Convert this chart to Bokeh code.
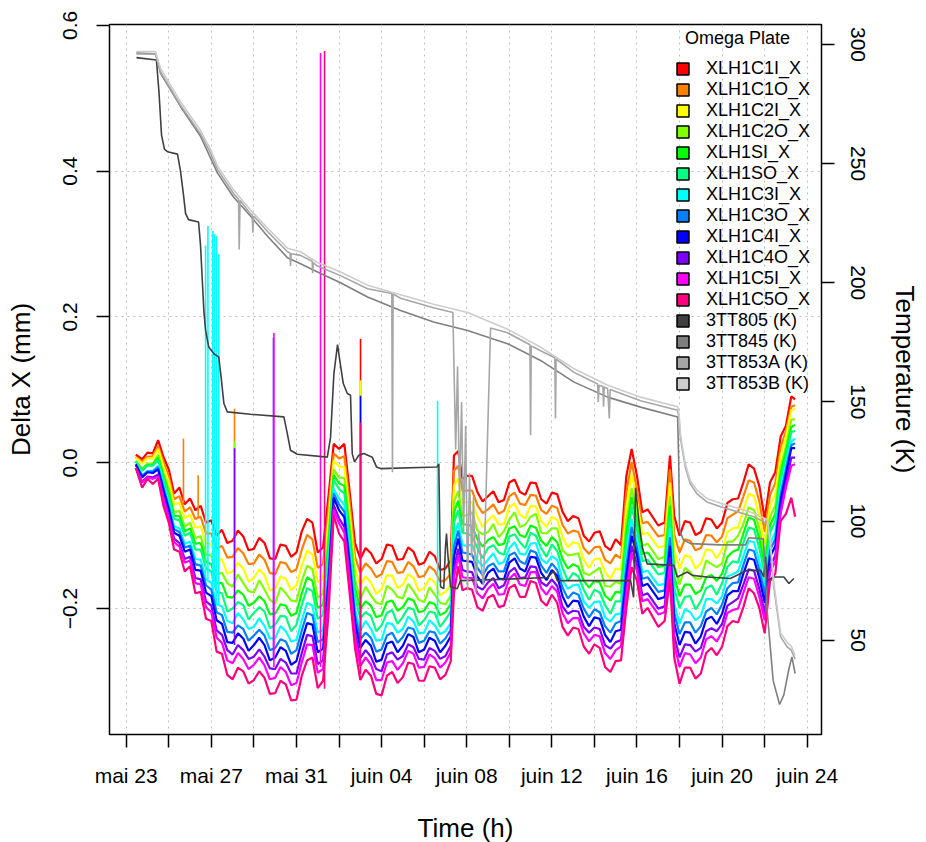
from bokeh.plotting import figure
from bokeh.models import Range1d, LinearAxis, FixedTicker, Legend, LegendItem, ColumnDataSource
from bokeh.embed import file_html
from bokeh.resources import INLINE

# ---------------- data (time in days since 23 May, 00:00) ----------------
T = [0.45, 0.75, 1.0, 1.25, 1.5, 1.75, 2.0, 2.25, 2.5, 2.75, 3.0, 3.25, 3.5, 3.75, 4.0, 4.25, 4.5,
     4.75, 5.0, 5.25, 5.5, 5.75, 6.0, 6.25, 6.5, 6.75, 7.0, 7.25, 7.5, 7.75, 8.0,
     8.25, 8.5, 8.75, 9.0, 9.25, 9.5, 9.75, 10.0, 10.25, 10.5, 10.75, 11.0,
     11.25, 11.5, 11.75, 12.0, 12.25, 12.5, 12.75, 13.0, 13.25, 13.5, 13.75, 14.0, 14.25, 14.5, 14.75, 15.0,
     15.25, 15.4, 15.6, 15.8, 16.0,
     16.25, 16.5, 16.75, 17.0, 17.25, 17.5, 17.75, 18.0, 18.25, 18.5, 18.75, 19.0, 19.25, 19.5, 19.75, 20.0,
     20.25, 20.5, 20.75, 21.0, 21.25, 21.5, 21.75, 22.0, 22.25, 22.5, 22.75, 23.0,
     23.25, 23.5, 23.75, 24.0, 24.25, 24.5, 25.0, 25.3, 25.55, 25.75, 26.0,
     26.25, 26.5, 26.75, 27.0, 27.25, 27.5, 27.75, 28.0, 28.25, 28.5, 28.75, 29.0,
     29.25, 29.5, 29.75, 30.0, 30.25, 30.5, 30.75, 31.0, 31.25, 31.43]

XLH1C1I_X = [.011, .005, .014, .013, .031, .008, -.009, -.042, -.034, -.057, -.049, -.065, -.059, -.082, -.079, -.100, -.092,
             -.110, -.107, -.093, -.101, -.120, -.118, -.103, -.110, -.131, -.132, -.112, -.114, -.129, -.123,
             -.094, -.077, -.082, -.123, -.116, -.047, .026, .019, .026, -.040, -.110, -.132,
             -.117, -.124, -.138, -.132, -.112, -.114, -.133, -.132, -.116, -.122, -.140, -.137, -.122, -.128, -.147, -.145,
             -.134, .010, .016, -.022, -.018,
             -.018, -.040, -.053, -.046, -.039, -.054, -.051, -.027, -.023, -.040, -.044, -.027, -.028, -.050, -.056, -.041,
             -.043, -.067, -.080, -.073, -.076, -.100, -.108, -.096, -.094, -.114, -.120, -.105,
             -.113, -.018, .019, -.018, -.068, -.064, -.086, -.082, .010, -.073, -.100,
             -.080, -.082, -.099, -.095, -.076, -.078, -.090, -.082, -.055, -.050, -.049, -.027,
             -.002, -.008, -.032, -.077, -.027, -.013, .036, .051, .091, .087]
XLH1C1O_X = [.008, .002, .008, .009, .023, .001, -.019, -.050, -.046, -.067, -.061, -.077, -.074, -.097, -.097, -.118, -.114,
             -.130, -.129, -.117, -.124, -.139, -.138, -.126, -.133, -.151, -.153, -.136, -.138, -.150, -.146,
             -.119, -.099, -.105, -.144, -.139, -.065, .013, .006, .009, -.055, -.129, -.151,
             -.138, -.145, -.157, -.153, -.135, -.136, -.151, -.150, -.136, -.142, -.157, -.155, -.142, -.148, -.163, -.161,
             -.152, -.011, -.004, -.039, -.038,
             -.038, -.058, -.069, -.064, -.057, -.070, -.066, -.046, -.041, -.056, -.058, -.044, -.045, -.065, -.070, -.059,
             -.062, -.085, -.097, -.093, -.095, -.117, -.125, -.116, -.115, -.133, -.138, -.126,
             -.131, -.041, .001, -.037, -.083, -.081, -.101, -.099, -.009, -.098, -.123,
             -.105, -.107, -.120, -.117, -.099, -.100, -.109, -.101, -.076, -.071, -.067, -.046,
             -.024, -.027, -.053, -.095, -.044, -.028, .021, .044, .077, .079]
XLH1C2I_X = [.007, -.001, .006, .006, .019, -.005, -.026, -.057, -.055, -.076, -.071, -.089, -.087, -.110, -.112, -.135, -.132,
             -.152, -.149, -.137, -.145, -.163, -.158, -.146, -.154, -.175, -.173, -.156, -.159, -.175, -.168,
             -.141, -.120, -.126, -.164, -.159, -.082, .003, -.005, -.006, -.070, -.144, -.168,
             -.156, -.164, -.180, -.173, -.154, -.155, -.172, -.167, -.153, -.158, -.176, -.172, -.158, -.164, -.182, -.177,
             -.167, -.032, -.021, -.055, -.054,
             -.054, -.074, -.088, -.079, -.072, -.085, -.084, -.061, -.056, -.071, -.076, -.059, -.060, -.080, -.088, -.074,
             -.078, -.101, -.116, -.109, -.111, -.133, -.144, -.132, -.131, -.150, -.159, -.145,
             -.147, -.061, -.016, -.052, -.098, -.096, -.116, -.114, -.027, -.119, -.145,
             -.127, -.129, -.145, -.138, -.119, -.120, -.131, -.119, -.095, -.090, -.089, -.065,
             -.042, -.046, -.072, -.111, -.059, -.043, .009, .036, .072, .074]
XLH1C2O_X = [.002, -.008, -.001, -.001, .011, -.014, -.036, -.068, -.066, -.088, -.082, -.103, -.101, -.126, -.127, -.153, -.151,
             -.165, -.170, -.153, -.165, -.176, -.178, -.161, -.174, -.188, -.193, -.171, -.179, -.189, -.190,
             -.162, -.141, -.146, -.185, -.179, -.101, -.009, -.020, -.021, -.086, -.160, -.187,
             -.170, -.182, -.192, -.194, -.169, -.174, -.184, -.186, -.166, -.176, -.188, -.191, -.171, -.181, -.192, -.194,
             -.182, -.053, -.039, -.073, -.072,
             -.068, -.093, -.098, -.095, -.084, -.102, -.094, -.078, -.068, -.088, -.085, -.074, -.070, -.096, -.097, -.090,
             -.090, -.120, -.127, -.126, -.124, -.151, -.154, -.149, -.144, -.169, -.170, -.163,
             -.166, -.080, -.035, -.068, -.114, -.111, -.132, -.129, -.046, -.140, -.167,
             -.144, -.150, -.159, -.159, -.134, -.139, -.143, -.138, -.108, -.108, -.100, -.084,
             -.061, -.065, -.090, -.129, -.074, -.059, -.005, .022, .059, .060]
XLH1SI_X = [.002, -.010, -.003, -.003, .007, -.018, -.042, -.073, -.073, -.094, -.090, -.111, -.110, -.136, -.139, -.165, -.165,
            -.184, -.185, -.175, -.181, -.196, -.192, -.183, -.190, -.208, -.207, -.194, -.196, -.210, -.206,
            -.179, -.157, -.162, -.199, -.195, -.113, -.017, -.028, -.032, -.097, -.172, -.200,
            -.190, -.196, -.212, -.209, -.191, -.189, -.203, -.198, -.186, -.189, -.205, -.203, -.191, -.194, -.209, -.205,
            -.194, -.068, -.052, -.084, -.085,
            -.087, -.105, -.115, -.106, -.102, -.113, -.111, -.090, -.087, -.099, -.102, -.086, -.089, -.107, -.114, -.102,
            -.109, -.132, -.145, -.139, -.143, -.162, -.171, -.162, -.164, -.182, -.189, -.177,
            -.178, -.096, -.047, -.080, -.125, -.123, -.143, -.141, -.059, -.156, -.183,
            -.167, -.167, -.180, -.175, -.157, -.154, -.162, -.152, -.129, -.122, -.119, -.097,
            -.075, -.078, -.104, -.141, -.086, -.070, -.015, .016, .049, .052]
XLH1SO_X = [.002, -.011, -.004, -.004, .004, -.022, -.046, -.077, -.079, -.100, -.096, -.119, -.119, -.145, -.149, -.177, -.179,
            -.204, -.200, -.191, -.195, -.215, -.206, -.198, -.204, -.227, -.222, -.210, -.211, -.231, -.222,
            -.195, -.172, -.176, -.214, -.209, -.126, -.024, -.036, -.042, -.107, -.184, -.213,
            -.205, -.210, -.231, -.223, -.206, -.202, -.221, -.211, -.199, -.201, -.223, -.216, -.204, -.206, -.225, -.215,
            -.204, -.082, -.065, -.096, -.097,
            -.100, -.117, -.131, -.117, -.113, -.123, -.126, -.101, -.098, -.109, -.117, -.096, -.100, -.117, -.129, -.112,
            -.121, -.144, -.162, -.151, -.156, -.174, -.188, -.174, -.178, -.195, -.207, -.190,
            -.190, -.110, -.060, -.092, -.135, -.133, -.153, -.151, -.072, -.172, -.199,
            -.184, -.183, -.201, -.190, -.172, -.168, -.181, -.165, -.143, -.135, -.137, -.110,
            -.089, -.091, -.117, -.153, -.096, -.080, -.023, .008, .042, .044]
XLH1C3I_X = [-.003, -.017, -.011, -.011, -.004, -.031, -.056, -.087, -.090, -.111, -.108, -.132, -.133, -.160, -.165, -.194, -.197,
             -.217, -.220, -.206, -.215, -.228, -.225, -.213, -.224, -.241, -.241, -.224, -.231, -.245, -.243,
             -.216, -.192, -.196, -.233, -.229, -.143, -.036, -.049, -.058, -.122, -.200, -.230,
             -.217, -.228, -.244, -.243, -.220, -.221, -.233, -.228, -.211, -.218, -.234, -.233, -.216, -.223, -.235, -.231,
             -.220, -.102, -.082, -.113, -.114,
             -.112, -.134, -.142, -.133, -.124, -.139, -.136, -.117, -.109, -.125, -.126, -.111, -.110, -.132, -.138, -.128,
             -.133, -.161, -.173, -.168, -.167, -.190, -.199, -.191, -.190, -.212, -.218, -.208,
             -.207, -.130, -.077, -.108, -.150, -.148, -.168, -.166, -.090, -.193, -.221,
             -.201, -.205, -.216, -.210, -.187, -.187, -.193, -.183, -.156, -.153, -.149, -.128,
             -.107, -.109, -.135, -.170, -.111, -.095, -.037, -.003, .029, .033]
XLH1C3O_X = [-.003, -.018, -.012, -.012, -.006, -.034, -.060, -.091, -.095, -.116, -.114, -.139, -.141, -.168, -.174, -.205, -.209,
             -.232, -.233, -.223, -.228, -.244, -.237, -.229, -.237, -.257, -.254, -.242, -.245, -.262, -.257,
             -.230, -.206, -.209, -.246, -.242, -.154, -.042, -.057, -.067, -.131, -.209, -.242,
             -.233, -.240, -.259, -.256, -.237, -.233, -.247, -.239, -.226, -.228, -.247, -.244, -.231, -.233, -.248, -.241,
             -.229, -.115, -.093, -.123, -.124,
             -.126, -.144, -.154, -.142, -.138, -.149, -.149, -.127, -.123, -.135, -.139, -.120, -.123, -.141, -.151, -.138,
             -.147, -.171, -.186, -.178, -.181, -.200, -.212, -.201, -.205, -.224, -.233, -.220,
             -.217, -.142, -.088, -.117, -.159, -.157, -.177, -.175, -.102, -.206, -.235,
             -.219, -.219, -.233, -.224, -.204, -.199, -.208, -.194, -.172, -.165, -.164, -.140,
             -.119, -.121, -.147, -.180, -.120, -.104, -.044, -.009, .024, .027]
XLH1C4I_X = [-.002, -.020, -.013, -.014, -.009, -.038, -.064, -.096, -.100, -.122, -.119, -.147, -.148, -.178, -.183, -.216, -.221,
             -.246, -.247, -.234, -.241, -.258, -.250, -.240, -.250, -.271, -.267, -.253, -.258, -.277, -.272,
             -.244, -.220, -.222, -.260, -.255, -.166, -.048, -.065, -.075, -.141, -.219, -.254,
             -.243, -.251, -.273, -.270, -.248, -.245, -.260, -.251, -.235, -.239, -.260, -.256, -.240, -.244, -.260, -.251,
             -.238, -.129, -.104, -.134, -.135,
             -.136, -.156, -.166, -.151, -.145, -.159, -.160, -.137, -.131, -.145, -.149, -.129, -.130, -.151, -.161, -.147,
             -.155, -.183, -.198, -.189, -.190, -.211, -.224, -.212, -.214, -.236, -.246, -.231,
             -.229, -.155, -.100, -.127, -.169, -.166, -.187, -.184, -.114, -.220, -.250,
             -.232, -.233, -.248, -.238, -.215, -.211, -.221, -.207, -.182, -.176, -.176, -.152,
             -.131, -.133, -.158, -.192, -.129, -.114, -.052, -.016, .020, .020]
XLH1C4O_X = [-.007, -.026, -.019, -.020, -.016, -.046, -.072, -.104, -.110, -.132, -.129, -.158, -.160, -.190, -.196, -.230, -.236,
             -.257, -.263, -.250, -.257, -.269, -.266, -.256, -.266, -.282, -.283, -.269, -.274, -.289, -.289,
             -.261, -.236, -.238, -.276, -.271, -.180, -.058, -.076, -.088, -.154, -.232, -.268,
             -.257, -.266, -.283, -.286, -.263, -.260, -.270, -.265, -.249, -.253, -.269, -.270, -.254, -.258, -.269, -.265,
             -.251, -.145, -.118, -.147, -.149,
             -.150, -.170, -.174, -.164, -.158, -.172, -.168, -.150, -.144, -.158, -.157, -.142, -.143, -.164, -.169, -.160,
             -.169, -.197, -.207, -.203, -.204, -.225, -.233, -.226, -.228, -.250, -.255, -.246,
             -.243, -.171, -.114, -.140, -.182, -.179, -.200, -.197, -.129, -.237, -.267,
             -.249, -.250, -.259, -.254, -.231, -.227, -.231, -.221, -.196, -.191, -.186, -.167,
             -.146, -.148, -.173, -.206, -.142, -.127, -.063, -.027, .007, .007]
XLH1C5I_X = [-.007, -.027, -.020, -.022, -.019, -.050, -.077, -.109, -.115, -.137, -.134, -.165, -.167, -.198, -.205, -.240, -.247,
             -.271, -.275, -.261, -.269, -.283, -.277, -.267, -.278, -.297, -.295, -.280, -.287, -.305, -.302,
             -.274, -.249, -.250, -.288, -.283, -.190, -.064, -.083, -.096, -.162, -.241, -.279,
             -.267, -.277, -.298, -.298, -.274, -.272, -.284, -.275, -.258, -.262, -.281, -.280, -.263, -.268, -.281, -.274,
             -.260, -.157, -.128, -.157, -.158,
             -.158, -.179, -.186, -.173, -.166, -.181, -.180, -.159, -.152, -.167, -.169, -.150, -.150, -.172, -.181, -.169,
             -.177, -.206, -.220, -.213, -.213, -.234, -.245, -.236, -.238, -.261, -.269, -.257,
             -.252, -.183, -.124, -.149, -.190, -.187, -.208, -.205, -.139, -.249, -.280,
             -.261, -.263, -.275, -.267, -.242, -.238, -.245, -.232, -.206, -.202, -.200, -.178,
             -.157, -.159, -.184, -.216, -.150, -.135, -.070, -.034, -.004, -.002]
XLH1C5O_X = [-.007, -.034, -.022, -.029, -.022, -.059, -.082, -.119, -.122, -.149, -.142, -.179, -.177, -.214, -.217, -.259, -.262,
             -.291, -.297, -.281, -.286, -.303, -.298, -.286, -.295, -.317, -.316, -.299, -.304, -.326, -.325,
             -.292, -.271, -.267, -.309, -.299, -.209, -.072, -.097, -.108, -.179, -.254, -.298,
             -.284, -.292, -.317, -.319, -.292, -.287, -.302, -.294, -.274, -.276, -.299, -.299, -.279, -.281, -.297, -.291,
             -.272, -.179, -.142, -.175, -.172,
             -.174, -.198, -.203, -.185, -.181, -.198, -.196, -.172, -.167, -.184, -.184, -.162, -.165, -.189, -.196, -.181,
             -.192, -.225, -.237, -.226, -.228, -.252, -.262, -.249, -.254, -.280, -.287, -.272,
             -.271, -.199, -.143, -.162, -.207, -.199, -.225, -.217, -.159, -.267, -.303,
             -.281, -.281, -.296, -.289, -.261, -.254, -.264, -.252, -.224, -.217, -.219, -.198,
             -.172, -.179, -.199, -.234, -.162, -.152, -.080, -.070, -.048, -.074]

series_names = ["XLH1C1I_X", "XLH1C1O_X", "XLH1C2I_X", "XLH1C2O_X", "XLH1SI_X", "XLH1SO_X",
                "XLH1C3I_X", "XLH1C3O_X", "XLH1C4I_X", "XLH1C4O_X", "XLH1C5I_X", "XLH1C5O_X"]
series_values = [XLH1C1I_X, XLH1C1O_X, XLH1C2I_X, XLH1C2O_X, XLH1SI_X, XLH1SO_X,
                 XLH1C3I_X, XLH1C3O_X, XLH1C4I_X, XLH1C4O_X, XLH1C5I_X, XLH1C5O_X]
series_colors = ["#FF0000", "#FF8000", "#FFFF00", "#80FF00", "#00FF00", "#00FF80",
                 "#00FFFF", "#0080FF", "#0000FF", "#8000FF", "#FF00FF", "#FF0080"]

# single-sample spikes in the displacement series
spike_series = [1, 1, 6, 6, 6, 6, 6, 6, 1, 3, 9, 9, 10, 10, 11, 0, 2, 8, 11, 6]
spike_t = [2.69, 3.38, 3.73, 3.84, 4.07, 4.15, 4.24, 4.35, 5.09, 5.09, 5.09, 6.92, 6.94, 9.13, 9.32,
           11.01, 11.01, 11.01, 11.01, 14.63]
spike_base = [-0.055, -0.075, -0.155, -0.160, -0.168, -0.172, -0.190, -0.196, -0.120, -0.160, -0.250,
              -0.270, -0.280, -0.280, -0.310, -0.130, -0.170, -0.250, -0.290, -0.220]
spike_top = [0.033, -0.017, 0.298, 0.325, 0.318, 0.314, 0.311, 0.286, 0.074, 0.030, 0.020,
             0.172, 0.178, 0.562, 0.565, 0.170, 0.113, 0.092, 0.055, 0.085]

# temperatures (K)
TT805_t = [0.48, 1.42, 1.54, 1.66, 1.80, 1.94, 2.41, 2.55, 2.69, 2.79, 2.93, 3.40, 3.49, 3.57, 3.65, 3.73,
           3.88, 4.12, 4.35, 4.46, 4.59, 4.75, 5.84, 7.41, 7.57, 7.72, 8.04, 9.45, 9.60, 9.76, 9.93, 10.06,
           10.20, 10.39, 10.54, 10.62, 10.73, 10.93, 11.17, 11.56, 11.76, 11.95, 14.61, 14.69, 14.77, 14.92,
           15.00, 15.05, 15.11, 15.24, 15.55, 15.71, 17.59, 19.80, 20.09, 20.25, 23.70, 23.84, 23.93, 24.09,
           24.25, 24.48, 25.73, 25.89, 26.36, 26.60, 27.30, 28.39, 29.18, 29.81, 29.96, 30.04, 30.12, 30.43,
           30.90, 31.14, 31.37]
TT805_K = [294.5, 293.5, 280, 262, 256, 255, 254, 247, 237, 229, 226.5, 225.5, 216, 202, 188, 180,
           173, 170.2, 168.8, 160.4, 149.3, 145.8, 144.8, 143.7, 136.7, 129.7, 128, 126.8, 135, 162, 174, 166,
           157.7, 153.5, 152.8, 128.3, 124.8, 127.6, 128.3, 126.8, 122.7, 122, 122.7, 124, 72.4, 71.6,
           89, 94.7, 86.3, 72.4, 71.6, 75, 75.5, 76.3, 79, 75, 75, 68, 114, 100,
           89, 82, 81.4, 76.5, 78.6, 77.2, 76.5, 75.9, 79.3, 79.3, 76.5, 85, 75, 76.5,
           76.5, 73.8, 75.9]

TT845_t = [0.48, 1.38, 1.61, 2.55, 3.49, 4.29, 5.04, 5.84, 6.64, 7.58, 8.19, 8.99, 10.07, 11.34, 12.89,
           14.44, 16.04, 17.92, 19.47, 21.02, 22.62, 24.17, 25.91, 25.96, 26.00, 26.19, 26.52, 27.93, 29.10,
           29.25, 29.94, 30.12, 30.40, 30.70, 30.90, 31.14, 31.28, 31.43]
TT845_K = [296.5, 296, 288, 274, 261.5, 246, 236, 228, 219.5, 210.5, 208, 204.5, 200, 194, 188.4,
           183.5, 180, 174.4, 167.4, 158.4, 152, 147.8, 143.7, 125, 96, 92, 90.5, 90, 90,
           93, 92.5, 62, 33, 23, 27, 38, 43, 36]

TT853A_t = [0.48, 1.38, 1.61, 2.55, 3.49, 3.96, 4.29, 5.04, 5.28, 5.31, 5.35, 5.84, 5.92, 5.95, 5.99,
            6.64, 7.58, 7.70, 7.72, 7.75, 8.19, 8.74, 8.76, 8.79, 8.99, 10.07, 11.34, 12.48, 12.51, 12.54,
            12.89, 14.44, 15.35, 15.48, 15.57, 15.66, 15.76, 15.85, 15.95, 16.04, 16.13, 16.23, 16.32, 16.42,
            16.56, 16.70, 16.79, 16.98, 17.12, 17.92, 18.97, 19.00, 19.03, 19.47, 20.14, 20.17, 20.20, 21.02,
            22.15, 22.18, 22.22, 22.40, 22.43, 22.46, 22.62, 22.70, 22.74, 24.17, 25.91, 25.98, 26.04, 26.11,
            26.27, 26.50, 26.81, 27.28, 27.93, 28.71, 29.49, 30.12, 30.27, 30.43, 30.75, 31.06, 31.25, 31.43]
TT853A_K = [296, 296, 288.5, 274.5, 262.5, 254.5, 247.5, 237.5, 235, 214, 234.5, 229, 228.5, 221, 228,
            221.5, 213, 212.5, 207, 212.2, 211.5, 209, 204, 208.5, 207, 203, 197.5, 195.5, 120.5, 195.3,
            193.5, 189.5, 187.5, 130, 165, 110, 150, 95, 140, 71, 120, 85, 110, 70,
            95, 80, 73, 136, 181, 179, 174, 136, 173.5, 171.5, 168.5, 143, 168, 162.5,
            157.5, 150, 157, 156.5, 148, 156.3, 155.5, 143, 155.2, 150.5, 146.5, 143, 135, 131,
            122.7, 115.7, 111.5, 108, 106, 103.9, 101.8, 99, 89, 72.4, 51.4, 47.2, 45.8, 42]

TT853B_t = [0.48, 1.38, 1.61, 2.55, 3.49, 3.96, 4.29, 5.04, 5.84, 6.64, 7.58, 8.19, 8.99, 10.07, 11.34,
            12.89, 14.44, 16.04, 17.92, 19.47, 21.02, 22.62, 24.17, 25.91, 25.98, 26.04, 26.11, 26.27, 26.50,
            26.81, 27.28, 27.93, 28.71, 29.49, 30.12, 30.27, 30.43, 30.75, 31.06, 31.25, 31.43]
TT853B_K = [297, 297, 290, 276, 264, 256, 249, 239, 230.5, 223, 214.5, 213, 208.5, 204.5, 199,
            195, 191, 187.5, 180.5, 173, 164, 157, 152, 148, 144.5, 137, 132.5, 124, 117,
            113, 109.5, 107.5, 105.5, 103.3, 100.5, 91, 74, 53, 49, 47.5, 43.5]

temp_names = ["3TT805 (K)", "3TT845 (K)", "3TT853A (K)", "3TT853B (K)"]
temp_t = [TT805_t, TT845_t, TT853A_t, TT853B_t]
temp_values = [TT805_K, TT845_K, TT853A_K, TT853B_K]
temp_colors = ["#404040", "#7F7F7F", "#A6A6A6", "#CCCCCC"]

x_ticks = [0, 2, 4, 6, 8, 10, 12, 14, 16, 18, 20, 22, 24, 26, 28, 30, 32]
x_tick_labels = {0: "mai 23", 4: "mai 27", 8: "mai 31", 12: "juin 04", 16: "juin 08",
                 20: "juin 12", 24: "juin 16", 28: "juin 20", 32: "juin 24"}
y_ticks = [-0.2, 0.0, 0.2, 0.4, 0.6]
y_tick_labels = {-0.2: "\u22120.2", 0.0: "0.0", 0.2: "0.2", 0.4: "0.4", 0.6: "0.6"}
temp_ticks = [50, 100, 150, 200, 250, 300]

for vals in series_values:
    assert len(vals) == len(T)

# ---------------- figure ----------------
FONT = "Liberation Sans"
p = figure(frame_width=712, frame_height=710, output_backend="svg", toolbar_location=None,
           x_range=Range1d(-0.785, 32.67), y_range=Range1d(-0.3727, 0.6012),
           min_border_left=109, min_border_right=105, min_border_top=24, min_border_bottom=108)
p.extra_y_ranges = {"temp": Range1d(10.4, 308.4)}
p.outline_line_color = "black"
p.outline_line_width = 1.5
p.background_fill_color = "white"
p.border_fill_color = "white"

def style_axis(ax):
    ax.axis_line_color = None
    ax.major_tick_out = 13
    ax.major_tick_in = 0
    ax.major_tick_line_color = "black"
    ax.major_tick_line_width = 1.5
    ax.minor_tick_line_color = None
    ax.major_label_text_font = FONT
    ax.major_label_text_font_size = "21px"
    ax.major_label_text_color = "black"
    ax.axis_label_text_font = FONT
    ax.axis_label_text_font_size = "26px"
    ax.axis_label_text_font_style = "normal"
    ax.axis_label_text_color = "black"

xa = p.xaxis[0]
xa.ticker = FixedTicker(ticks=x_ticks)
xa.major_label_overrides = {k: x_tick_labels.get(k, "") for k in x_ticks}
xa.axis_label = "Time (h)"
style_axis(xa)
xa.major_label_standoff = 16
xa.axis_label_standoff = 23

ya = p.yaxis[0]
ya.ticker = FixedTicker(ticks=y_ticks)
ya.major_label_overrides = y_tick_labels
ya.axis_label = "Delta X (mm)"
style_axis(ya)
ya.major_label_orientation = "vertical"
ya.major_label_standoff = 19
ya.axis_label_standoff = 25

ra = LinearAxis(y_range_name="temp", ticker=FixedTicker(ticks=temp_ticks), axis_label="Temperature (K)")
style_axis(ra)
ra.major_label_orientation = "vertical"
ra.axis_label_orientation = "vertical"
ra.major_label_standoff = 16
ra.axis_label_standoff = 22
p.add_layout(ra, "right")

for g in (p.xgrid[0], p.ygrid[0]):
    g.grid_line_color = "#bdbdbd"
    g.grid_line_dash = "2 4"
    g.grid_line_width = 1

# displacement series
for name, vals, col in zip(series_names, series_values, series_colors):
    src = ColumnDataSource(data=dict(t=T, v=vals))
    p.line("t", "v", source=src, line_color=col, line_width=2.2)

spike_src = ColumnDataSource(data=dict(
    x=spike_t, y0=spike_base, y1=spike_top,
    color=[series_colors[i] for i in spike_series]))
p.segment(x0="x", y0="y0", x1="x", y1="y1", color="color", line_width=1.6, source=spike_src)

# temperatures
for tt, kk, col in zip(temp_t, temp_values, temp_colors):
    src = ColumnDataSource(data=dict(t=tt, k=kk))
    p.line("t", "k", source=src, y_range_name="temp", line_color=col, line_width=1.6)

# legend (square keys; the key renderers hold no visible data)
nan = float("nan")
items = []
for name, col in zip(series_names + temp_names, series_colors + temp_colors):
    r = p.rect(x=[nan], y=[nan], width=1, height=1, fill_color=col, line_color="black", line_width=1.5)
    items.append(LegendItem(label=name, renderers=[r]))

legend = Legend(items=items, location=(566, 340), padding=0, margin=0, spacing=0,
                label_height=21, glyph_height=15, glyph_width=15, label_standoff=16,
                label_text_font=FONT, label_text_font_size="18px", label_text_color="black",
                title="\u00a0\u00a0Omega Plate", title_text_font=FONT, title_text_font_size="18px",
                title_text_font_style="normal", title_text_color="black", title_standoff=9,
                background_fill_alpha=0, border_line_color=None)
p.add_layout(legend)

open("out.html", "w").write(file_html(p, INLINE))
